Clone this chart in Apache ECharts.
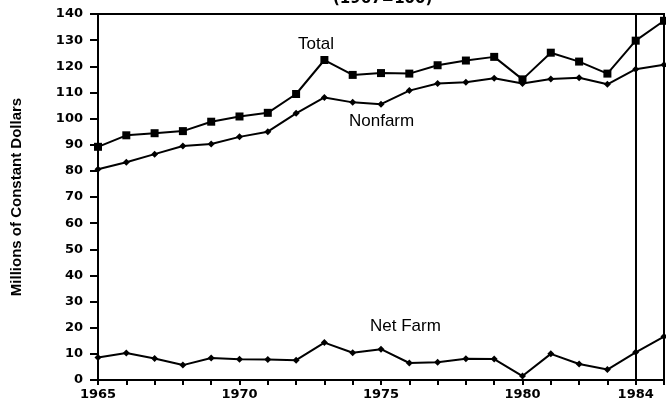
<!DOCTYPE html>
<html>
<head>
<meta charset="utf-8">
<script src="https://cdn.jsdelivr.net/npm/echarts@6/dist/echarts.min.js"></script>
<style>
  html, body { margin: 0; padding: 0; background: #fff; }
  #main { width: 666px; height: 406px; }
</style>
</head>
<body>
<div id="main"></div>
<script>
// years on the x axis
var years = ['1965', '1966', '1967', '1968', '1969', '1970', '1971', '1972', '1973', '1974',
  '1975', '1976', '1977', '1978', '1979', '1980', '1981', '1982', '1983', '1984', '1985']
var xLabels = ['1965', '1970', '1975', '1980', '1984']

// millions of constant dollars (1967=100)
var total = [89.2, 93.6, 94.4, 95.2, 98.8, 100.8, 102.2, 109.4, 122.4, 116.7,
  117.4, 117.2, 120.4, 122.2, 123.6, 115.0, 125.2, 121.8, 117.2, 129.8, 137.4]
var nonfarm = [80.6, 83.3, 86.4, 89.5, 90.3, 93.0, 95.0, 102.0, 108.1, 106.2,
  105.5, 110.7, 113.4, 113.9, 115.4, 113.4, 115.1, 115.6, 113.1, 118.9, 120.6]
var netFarm = [8.6, 10.3, 8.2, 5.7, 8.4, 7.9, 7.8, 7.6, 14.3, 10.4,
  11.8, 6.5, 6.8, 8.1, 8.0, 1.5, 10.0, 6.1, 4.0, 10.6, 16.6]

var tickFont = { fontFamily: 'DejaVu Sans', fontWeight: 'bold', fontSize: 13, color: '#000' }

let myChart = echarts.init(document.getElementById('main'))

function lineSeries (name, data, symbol, size) {
  return {
    name: name,
    type: 'line',
    data: data,
    symbol: symbol,
    symbolSize: size,
    showSymbol: true,
    lineStyle: { color: '#000', width: 2 },
    itemStyle: { color: '#000' },
    animation: false
  }
}

var s1 = lineSeries('Total', total, 'rect', 8)
// vertical line at 1984
s1.markLine = {
  silent: true,
  symbol: 'none',
  label: { show: false },
  lineStyle: { color: '#000', width: 2, type: 'solid' },
  data: [{ xAxis: '1984' }]
}

myChart.setOption({
  animation: false,
  grid: {
    left: 98,
    right: 2,
    top: 14,
    bottom: 26,
    show: true,
    borderColor: '#000',
    borderWidth: 2
  },
  xAxis: {
    type: 'category',
    data: years,
    boundaryGap: false,
    axisLine: { lineStyle: { color: '#000', width: 2 } },
    axisTick: { show: true, interval: 0, length: 5, lineStyle: { color: '#000', width: 2 } },
    axisLabel: Object.assign({
      margin: 8,
      interval: function (i, v) { return xLabels.indexOf(v) >= 0 }
    }, tickFont),
    splitLine: { show: false }
  },
  yAxis: {
    type: 'value',
    min: 0,
    max: 140,
    interval: 10,
    name: 'Millions of Constant Dollars',
    nameLocation: 'middle',
    nameRotate: 90,
    nameGap: 74,
    nameTextStyle: { fontFamily: 'Liberation Sans', fontWeight: 'bold', fontSize: 15, color: '#000' },
    axisLine: { show: true, lineStyle: { color: '#000', width: 2 } },
    axisTick: { show: true, length: 8, lineStyle: { color: '#000', width: 2 } },
    axisLabel: Object.assign({ margin: 15 }, tickFont),
    splitLine: { show: false }
  },
  graphic: [
    { type: 'text', left: 333, top: -8, style: { text: '(1967=100)', font: 'bold 15px DejaVu Sans', fill: '#000' } },
    { type: 'text', left: 298, top: 36, style: { text: 'Total', font: '17px Liberation Sans', fill: '#000' } },
    { type: 'text', left: 349, top: 113, style: { text: 'Nonfarm', font: '17px Liberation Sans', fill: '#000' } },
    { type: 'text', left: 370, top: 318, style: { text: 'Net Farm', font: '17px Liberation Sans', fill: '#000' } }
  ],
  series: [
    s1,
    lineSeries('Nonfarm', nonfarm, 'diamond', 7),
    lineSeries('Net Farm', netFarm, 'diamond', 7)
  ]
})
</script>
</body>
</html>
